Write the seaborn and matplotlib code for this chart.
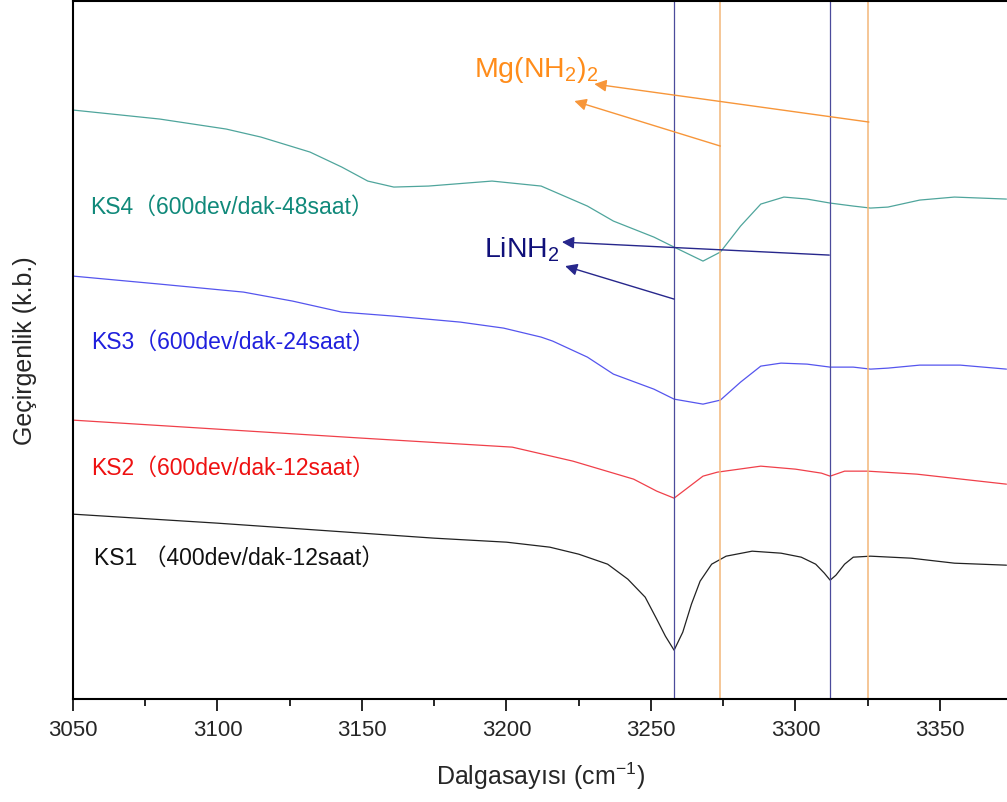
import matplotlib
matplotlib.use("Agg")
import matplotlib.pyplot as plt
import seaborn as sns
import pandas as pd

# FTIR spectra (transmittance in arbitrary units)
wn_ks1 = [3050, 3100, 3150, 3175, 3200, 3215, 3225, 3235, 3242, 3248, 3252, 3255, 3258,
          3261, 3264, 3267, 3271, 3276, 3285, 3295, 3302, 3307, 3310, 3312, 3314, 3317,
          3320, 3326, 3340, 3355, 3373]
t_ks1 = [185, 176, 166, 161, 157, 152, 145, 135, 120, 102, 80, 63, 49,
         67, 95, 118, 135, 143, 148, 146, 142, 135, 126, 119, 124, 135,
         142, 143, 141, 136, 134]

wn_ks2 = [3050, 3100, 3150, 3202, 3223, 3244, 3252, 3258, 3263, 3268, 3273, 3288, 3300,
          3309, 3312, 3317, 3325, 3342, 3373]
t_ks2 = [279, 270, 261, 252, 238, 220, 208, 201, 212, 223, 227, 233, 230,
         226, 223, 228, 228, 225, 215]

wn_ks3 = [3050, 3080, 3109, 3126, 3143, 3161, 3184, 3199, 3212, 3216, 3228, 3237, 3251,
          3258, 3268, 3274, 3281, 3288, 3295, 3304, 3312, 3320, 3326, 3332, 3343, 3357, 3373]
t_ks3 = [423, 415, 407, 398, 387, 383, 377, 371, 362, 358, 342, 325, 310,
         300, 295, 299, 317, 333, 336, 335, 332, 332, 330, 331, 334, 334, 330]

wn_ks4 = [3050, 3080, 3103, 3115, 3132, 3143, 3152, 3161, 3173, 3195, 3212, 3216, 3228,
          3237, 3251, 3258, 3268, 3274, 3281, 3288, 3296, 3304, 3312, 3320, 3326, 3332,
          3343, 3355, 3373]
t_ks4 = [589, 580, 570, 562, 547, 532, 518, 512, 513, 518, 513, 508, 493,
         478, 462, 452, 438, 447, 473, 495, 502, 500, 496, 493, 491, 492,
         499, 502, 500]

labels = ["KS1 \uff08400dev/dak-12saat\uff09", "KS2\uff08600dev/dak-12saat\uff09",
          "KS3\uff08600dev/dak-24saat\uff09", "KS4\uff08600dev/dak-48saat\uff09"]

# reference band positions
linh2_bands = [3258, 3312]
mgnh2_bands = [3274, 3325]

sns.set_style("ticks")
plt.rcParams["font.family"] = ["Liberation Sans", "Noto Sans CJK SC"]
plt.rcParams["mathtext.fontset"] = "custom"
plt.rcParams["mathtext.rm"] = "Liberation Sans"
plt.rcParams["mathtext.default"] = "regular"

fig = plt.figure(figsize=(10.07, 8.03), dpi=100)
ax = fig.add_axes([0.0725, 0.128, 0.9275, 0.8695])

series = [
    (wn_ks1, t_ks1, "#222222", "#111111"),
    (wn_ks2, t_ks2, "#f0404a", "#ee1111"),
    (wn_ks3, t_ks3, "#5555ee", "#2020dd"),
    (wn_ks4, t_ks4, "#4fa59c", "#10897a"),
]
for wn, t, lc, tc in series:
    df = pd.DataFrame({"wn": wn, "t": t})
    sns.lineplot(data=df, x="wn", y="t", color=lc, lw=0.9, ax=ax)

for b in linh2_bands:
    ax.axvline(b, color="#4b4b9b", lw=0.9)
for b in mgnh2_bands:
    ax.axvline(b, color="#f2b679", lw=1.1)

# sample labels
label_pos = [(3057.3, 135), (3056.2, 225), (3056.2, 351), (3055.9, 486)]
for (x, y), txt, s in zip(label_pos, labels, series):
    ax.text(x, y, txt, color=s[3], fontsize=16.5, va="baseline", ha="left")

# band assignments
ax.text(3188.8, 623, r"Mg(NH$_2$)$_2$", color="#ff8c1a", fontsize=20.5, va="baseline")
ax.text(3192.2, 443, r"LiNH$_2$", color="#10107a", fontsize=20.5, va="baseline")

orange_arrows = [((3325.4, 577), (3230.4, 615)), ((3274, 553), (3223.5, 598))]
blue_arrows = [((3311.7, 444), (3219.2, 457)), ((3258, 400), (3220.3, 433))]
for tail, head in orange_arrows:
    ax.annotate("", xy=head, xytext=tail,
                arrowprops=dict(arrowstyle="-|>", color="#f7963a", lw=1.0,
                                mutation_scale=18, shrinkA=0, shrinkB=0))
for tail, head in blue_arrows:
    ax.annotate("", xy=head, xytext=tail,
                arrowprops=dict(arrowstyle="-|>", color="#27278c", lw=1.0,
                                mutation_scale=18, shrinkA=0, shrinkB=0))

ax.set_xlim(3050, 3373.2)
ax.set_ylim(0, 698)
ax.set_xticks([3050, 3100, 3150, 3200, 3250, 3300, 3350])
ax.set_xticks([3075, 3125, 3175, 3225, 3275, 3325], minor=True)
ax.set_yticks([])
ax.tick_params(axis="x", which="major", direction="out", length=8.5, width=1.4,
               labelsize=16, pad=6)
ax.tick_params(axis="x", which="minor", direction="out", length=5, width=1.4)
for side in ["left", "bottom", "top"]:
    ax.spines[side].set_linewidth(1.5)
    ax.spines[side].set_color("black")
ax.spines["right"].set_visible(False)

ax.set_xlabel(r"Dalgasayısı (cm$^{-1}$)", fontsize=18, labelpad=14)
ax.set_ylabel("Geçirgenlik (k.b.)", fontsize=18, labelpad=26)

fig.savefig("out.png", dpi=100)
